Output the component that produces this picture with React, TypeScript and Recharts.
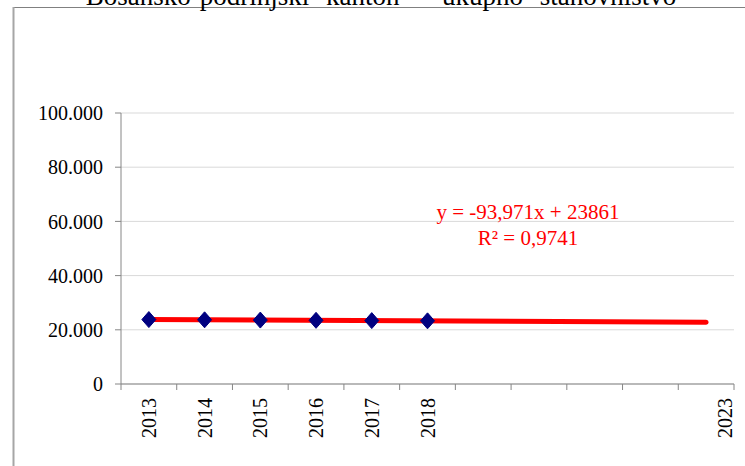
import React from 'react';
import { ComposedChart, Line, XAxis, YAxis, CartesianGrid } from 'recharts';

const years = ['2013', '2014', '2015', '2016', '2017', '2018', '2019', '2020', '2021', '2022', '2023'];
const population: (number | null)[] = [23780, 23680, 23590, 23490, 23390, 23300, null, null, null, null, null];
const trendValues: (number | null)[] = [23767, null, null, null, null, null, null, null, null, null, 22827];
const xTickLabels = ['2013', '2014', '2015', '2016', '2017', '2018', '', '', '', '', '2023'];
const yTicks = [0, 20000, 40000, 60000, 80000, 100000];
const titleText = 'Bosansko-podrinjski kanton - ukupno stanovništvo';
const equationText = 'y = -93,971x + 23861';
const r2Text = 'R² = 0,9741';

const data = years.map((y, i) => ({ year: y, population: population[i], trend: trendValues[i] }));

const FONT = '"Liberation Serif", "Times New Roman", serif';
const AXIS = '#868686';

const fmt = (v: number) => String(v).replace(/\B(?=(\d{3})+(?!\d))/g, '.');

const Diamond = (props: any) => {
  const { cx, cy, index } = props;
  if (cx == null || cy == null) return <g key={`d${index}`} />;
  return (
    <path
      key={`d${index}`}
      d={`M${cx},${cy - 8} L${cx + 7},${cy} L${cx},${cy + 8} L${cx - 7},${cy} Z`}
      fill="#000080"
      stroke="#000080"
      strokeWidth={1}
    />
  );
};

const XTick = (props: any) => {
  const { x, y, payload } = props;
  const idx = years.indexOf(String(payload.value));
  const off = payload.offset ? payload.offset : 27.86;
  const label = xTickLabels[idx] || '';
  const last = idx === years.length - 1;
  const lx = last ? x + 19 : x;
  return (
    <g>
      <line x1={x - off} x2={x - off} y1={y} y2={y + 6} stroke={AXIS} />
      {last && <line x1={x + off} x2={x + off} y1={y} y2={y + 6} stroke={AXIS} />}
      {label && (
        <text
          x={0}
          y={0}
          transform={`translate(${lx},${y + 14}) rotate(-90)`}
          textAnchor="end"
          dominantBaseline="central"
          fontFamily={FONT}
          fontSize={20}
          fill="#000"
        >
          {label}
        </text>
      )}
    </g>
  );
};

export default function App() {
  return (
    <div style={{ position: 'absolute', left: 0, top: 0, width: 745, height: 466, background: '#fff', overflow: 'hidden' }}>
      <svg width={745} height={466} style={{ position: 'absolute', left: 0, top: 0 }}>
        <line x1={13} y1={7.5} x2={745} y2={7.5} stroke="#808080" strokeWidth={1} />
        <line x1={13.5} y1={7} x2={13.5} y2={466} stroke="#a6a6a6" strokeWidth={2} />
      </svg>
      <div style={{ position: 'absolute', left: 0, top: 0 }}>
        <ComposedChart
          width={745}
          height={466}
          data={data}
          margin={{ top: 113, right: 11, bottom: 0, left: 0 }}
        >
          <CartesianGrid vertical={false} stroke="#d9d9d9" />
          <XAxis
            dataKey="year"
            scale="band"
            interval={0}
            stroke={AXIS}
            tickLine={false}
            tickSize={0}
            tickMargin={0}
            tick={<XTick />}
            height={82}
          />
          <YAxis
            width={121}
            domain={[0, 100000]}
            ticks={yTicks}
            tickFormatter={fmt}
            stroke={AXIS}
            tickSize={6}
            tickMargin={12}
            tick={{ fill: '#000', fontSize: 20, fontFamily: FONT }}
            interval={0}
          />
          <Line
            dataKey="population"
            stroke="none"
            dot={Diamond}
            activeDot={false}
            isAnimationActive={false}
          />
          <Line
            dataKey="trend"
            stroke="#ff0000"
            strokeWidth={5}
            strokeLinecap="round"
            connectNulls
            dot={false}
            activeDot={false}
            isAnimationActive={false}
          />
        </ComposedChart>
      </div>
      <svg width={745} height={466} style={{ position: 'absolute', left: 0, top: 0, pointerEvents: 'none' }}>
        <text x={381} y={5} textAnchor="middle" fontFamily={FONT} fontSize={27} fill="#000" wordSpacing={10}>
          {titleText}
        </text>
        <text x={528} y={219} textAnchor="middle" fontFamily={FONT} fontSize={21} fill="#ff0000">
          {equationText}
        </text>
        <text x={528} y={245} textAnchor="middle" fontFamily={FONT} fontSize={21} fill="#ff0000">
          {r2Text}
        </text>
      </svg>
    </div>
  );
}
